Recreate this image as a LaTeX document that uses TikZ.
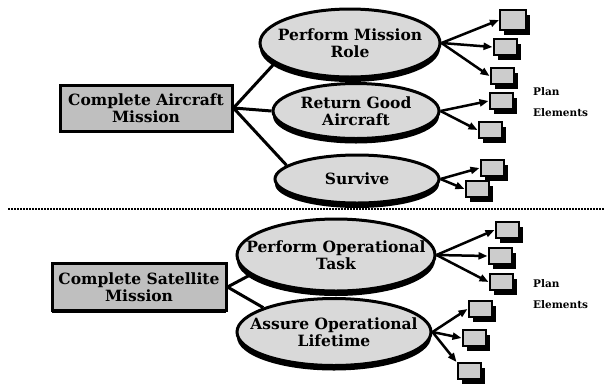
\documentclass[tikz,border=0pt]{standalone}
\usepackage{fontspec}
\setmainfont{DejaVu Serif}
\usetikzlibrary{shadows,arrows.meta,backgrounds,shapes.geometric}
\begin{document}
\begin{tikzpicture}[x=1pt,y=-1pt,
  txt/.style={font=\bfseries\fontsize{15.5}{17}\selectfont, align=center, text=black, inner sep=0pt},
  mainbox/.style={txt, rectangle, draw=black, line width=3pt, fill=gray!50, inner sep=0pt,
    drop shadow={shadow xshift=0pt, shadow yshift=-2pt, opacity=1, fill=black}},
  goal/.style={ellipse, draw=black, line width=3pt, fill=gray!30, inner sep=0pt,
    drop shadow={shadow xshift=0pt, shadow yshift=-5pt, opacity=1, fill=black}},
  plan/.style={rectangle, draw=black, line width=2pt, fill=gray!40, minimum width=23pt, minimum height=16pt, inner sep=0pt,
    drop shadow={shadow xshift=4pt, shadow yshift=-5pt, opacity=1, fill=black}},
  link/.style={line width=3pt, black},
  arr/.style={line width=2.5pt, black, -{Triangle[length=9pt,width=7pt]}},
  lbl/.style={font=\bfseries\fontsize{10.5}{12}\selectfont, anchor=west, inner sep=0pt},
  sep/.style={line width=2.5pt, dash pattern=on 1.6pt off 1.4pt}
]
\useasboundingbox (0,0) rectangle (604,389);

% upper half
\node[mainbox, minimum width=172pt, minimum height=46pt] (ca) at (146,108) {Complete Aircraft\\Mission};
\node[goal, minimum width=180pt, minimum height=68pt] (pmr) at (350,43) {};
\node[txt] (pmrt) at (pmr) {Perform Mission\\Role};
\node[goal, minimum width=166pt, minimum height=55pt] (rga) at (356,111) {};
\node[txt] (rgat) at (rga) {Return Good\\Aircraft};
\node[goal, minimum width=164pt, minimum height=48pt] (sur) at (357,179) {};
\node[txt] (surt) at (sur) {Survive};

\node[plan, minimum width=26pt, minimum height=20pt] (p1) at (513,20) {};
\node[plan] (p2) at (505,47) {};
\node[plan] (p3) at (502,76) {};
\node[plan] (p4) at (501,101) {};
\node[plan] (p5) at (490,130) {};
\node[plan] (p6) at (492,168) {};
\node[plan] (p7) at (477,189) {};

\node[lbl] (pl1) at (533,92) {Plan};
\node[lbl] (el1) at (533,113) {Elements};

% separator
\coordinate (d1) at (8,209);
\coordinate (d2) at (604,209);
\draw[sep] (d1) -- (d2);

% lower half
\node[mainbox, minimum width=174pt, minimum height=47pt] (cs) at (139,287) {Complete Satellite\\Mission};
\node[goal, minimum width=198pt, minimum height=72pt] (pot) at (336,255) {};
\node[txt] (pott) at (pot) {Perform Operational\\Task};
\node[goal, minimum width=194pt, minimum height=67pt] (aol) at (334,332) {};
\node[txt] (aolt) at (aol) {Assure Operational\\Lifetime};

\node[plan] (q1) at (507,230) {};
\node[plan] (q2) at (500,256) {};
\node[plan] (q3) at (501,282) {};
\node[plan] (q4) at (480,309) {};
\node[plan] (q5) at (474,338) {};
\node[plan] (q6) at (469,371) {};

\node[lbl] (pl2) at (533,284) {Plan};
\node[lbl] (el2) at (533,305) {Elements};

\begin{scope}[on background layer]
  \draw[link] (ca.east) -- (pmr.195);
  \draw[link] (ca.east) -- (rga.west);
  \draw[link] (ca.east) -- (sur.169);
  \draw[link] (cs.east) -- (pot.193);
  \draw[link] (cs.east) -- (aol.161);
\end{scope}

\draw[arr] (pmr.east) -- (p1.west);
\draw[arr] (pmr.east) -- (p2.west);
\draw[arr] (pmr.east) -- (p3.west);
\draw[arr] (rga.east) -- (p4.west);
\draw[arr] (rga.east) -- (p5.west);
\draw[arr] (sur.east) -- (p6.west);
\draw[arr] (sur.east) -- (p7.west);

\draw[arr] (pot.east) -- (q1.west);
\draw[arr] (pot.east) -- (q2.west);
\draw[arr] (pot.east) -- (q3.west);
\draw[arr] (aol.east) -- (q4.west);
\draw[arr] (aol.east) -- (q5.west);
\draw[arr] (aol.east) -- (q6.north west);
\end{tikzpicture}
\end{document}
